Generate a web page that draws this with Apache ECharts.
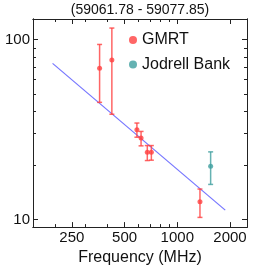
<!DOCTYPE html>
<html><head><meta charset="utf-8">
<script src="https://cdn.jsdelivr.net/npm/echarts@6/dist/echarts.min.js"></script>
<style>html,body{margin:0;padding:0;background:#fff}#c{width:266px;height:271px}</style>
</head><body><div id="c"></div>
<script>
const gmrtFreq = [360, 423, 588, 621, 674, 711, 1347];
const gmrtFlux = [69.2, 77.1, 31.6, 28.4, 23.7, 23.7, 12.6];
const gmrtLow  = [44.8, 38.5, 28.7, 25.7, 21.3, 21.4, 10.3];
const gmrtHigh = [93.9, 115.8, 34.4, 30.9, 25.8, 25.8, 14.8];
const jbFreq = [1550];
const jbFlux = [19.8];
const jbLow  = [15.7];
const jbHigh = [23.8];
const fitFreq = [194, 1878];
const fitFlux = [73.7, 11.3];
const xMajorTicks = [250, 500, 1000, 2000];
const xMinorTicks = [200, 300, 400, 600, 700, 800, 900];
const yMajorTicks = [10, 100];
const yMinorTicks = [20, 30, 40, 50, 60, 70, 80, 90];
const titleText = '(59061.78 - 59077.85)';
const xName = 'Frequency (MHz)';

const FONT = 'Liberation Sans, Arial, sans-serif';
const AX = '#222';
const RED = '#ff4040';
const TEAL = '#3f9f9f';

function xAx(pos, ticks, len, labels, name) {
  const a = {
    type: 'log', logBase: 10, min: 150, max: 2500, position: pos,
    axisLine: { show: true, onZero: false, lineStyle: { color: AX, width: 1 } },
    axisTick: { show: true, inside: true, length: len, customValues: ticks, lineStyle: { color: AX, width: 1 } },
    axisLabel: labels ? { show: true, customValues: labels, margin: 3, fontSize: 15, color: '#111', fontFamily: FONT, formatter: v => String(Math.round(v)) } : { show: false },
    splitLine: { show: false }, minorTick: { show: false }
  };
  if (name) {
    a.name = name; a.nameLocation = 'middle'; a.nameGap = 20;
    a.nameTextStyle = { fontSize: 16, color: '#111', fontFamily: FONT };
  }
  return a;
}
function yAx(pos, ticks, len, labels) {
  return {
    type: 'log', logBase: 10, min: 9.1, max: 130, position: pos,
    axisLine: { show: true, onZero: false, lineStyle: { color: AX, width: 1 } },
    axisTick: { show: true, inside: true, length: len, customValues: ticks, lineStyle: { color: AX, width: 1 } },
    axisLabel: labels ? { show: true, customValues: labels, margin: 3, fontSize: 15, color: '#111', fontFamily: FONT, formatter: v => String(Math.round(v)) } : { show: false },
    splitLine: { show: false }, minorTick: { show: false }
  };
}
function errSeries(name, freq, low, high, color) {
  return {
    type: 'custom', name: name, xAxisIndex: 0, yAxisIndex: 0, silent: true, z: 3,
    itemStyle: { color: color },
    data: freq.map((f, i) => [f, low[i], high[i]]),
    encode: { x: 0, y: [1, 2] },
    renderItem: function (params, api) {
      const x = api.value(0);
      const p1 = api.coord([x, api.value(1)]);
      const p2 = api.coord([x, api.value(2)]);
      const hw = 2.5;
      const st = { stroke: color, lineWidth: 1.5, opacity: 0.8 };
      return { type: 'group', children: [
        { type: 'line', shape: { x1: p1[0], y1: p1[1], x2: p2[0], y2: p2[1] }, style: st },
        { type: 'line', shape: { x1: p1[0] - hw, y1: p1[1], x2: p1[0] + hw, y2: p1[1] }, style: st },
        { type: 'line', shape: { x1: p2[0] - hw, y1: p2[1], x2: p2[0] + hw, y2: p2[1] }, style: st }
      ]};
    }
  };
}

const chart = echarts.init(document.getElementById('c'), null, { renderer: 'canvas' });
chart.setOption({
  animation: false,
  backgroundColor: '#fff',
  textStyle: { fontFamily: FONT },
  title: { text: titleText, left: 140, textAlign: 'center', top: 3, padding: 0,
    textStyle: { fontSize: 14, fontWeight: 'normal', color: '#111', fontFamily: FONT } },
  legend: {
    orient: 'vertical', left: 129, top: 32, padding: 0, itemGap: 8.5,
    itemWidth: 8, itemHeight: 8,
    textStyle: { fontSize: 16, color: '#111', fontFamily: FONT },
    data: [{ name: 'GMRT', icon: 'circle', itemStyle: { color: RED } },
           { name: 'Jodrell Bank', icon: 'circle', itemStyle: { color: TEAL } }]
  },
  grid: { left: 33, right: 19, top: 19, bottom: 40, containLabel: false },
  xAxis: [
    xAx('bottom', xMajorTicks, 5, xMajorTicks, xName),
    xAx('bottom', xMinorTicks, 3, null),
    xAx('top', xMajorTicks, 5, null),
    xAx('top', xMinorTicks, 3, null)
  ],
  yAxis: [
    yAx('left', yMajorTicks, 5, yMajorTicks),
    yAx('left', yMinorTicks, 3, null),
    yAx('right', yMajorTicks, 5, null),
    yAx('right', yMinorTicks, 3, null)
  ],
  series: [
    { type: 'scatter', name: 'GMRT', data: gmrtFreq.map((f, i) => [f, gmrtFlux[i]]),
      symbol: 'circle', symbolSize: 5, itemStyle: { color: RED }, z: 4 },
    { type: 'scatter', name: 'Jodrell Bank', data: jbFreq.map((f, i) => [f, jbFlux[i]]),
      symbol: 'circle', symbolSize: 5, itemStyle: { color: TEAL }, z: 4 },
    errSeries('GMRT', gmrtFreq, gmrtLow, gmrtHigh, RED),
    errSeries('Jodrell Bank', jbFreq, jbLow, jbHigh, TEAL),
    { type: 'line', name: 'fit', data: fitFreq.map((f, i) => [f, fitFlux[i]]), symbol: 'none',
      lineStyle: { color: '#7575ff', width: 1.2 }, z: 1, silent: true }
  ]
});
</script>
</body></html>
